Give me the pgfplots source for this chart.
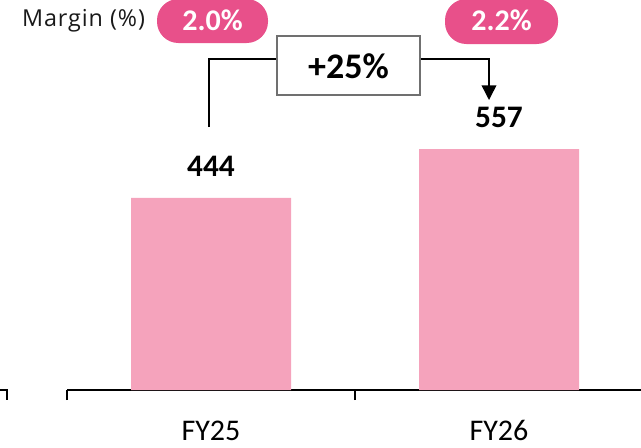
\documentclass[border=0pt]{standalone}
\usepackage{pgfplots}
\pgfplotsset{compat=1.18}
\usepackage{fontspec}
\setmainfont{Carlito}
\newfontfamily\marginfont[LetterSpace=4]{Open Sans}
\usetikzlibrary{arrows.meta}
\definecolor{barpink}{HTML}{F5A3BC}
\definecolor{badgepink}{HTML}{E8508A}
\definecolor{boxgray}{HTML}{707070}
\begin{document}
\begin{tikzpicture}[x=0.75pt,y=-0.75pt]
\path[use as bounding box] (0,0) rectangle (641,447);
\coordinate (O) at (67,390);
\begin{axis}[
  at={(O)}, anchor=south west,
  scale only axis,
  width=432pt, height=227.06pt,
  xmin=-0.5, xmax=1.5, ymin=0, ymax=700,
  axis x line*=bottom,
  hide y axis,
  axis line style={black, line width=1pt, -},
  xtick={0,1},
  xticklabels={FY25,FY26},
  major tick length=0pt,
  minor xtick={-0.5,0.5,1.5},
  minor tick length=7.5pt,
  tick align=outside,
  minor tick style={black, line width=1pt},
  xticklabel style={anchor=base, yshift=-38pt, font=\fontsize{22.5}{26}\selectfont},
  /pgf/number format/assume math mode=true,
  clip=false,
]
\addplot[ybar, bar width=120pt, fill=barpink, draw=none,
  nodes near coords,
  every node near coord/.append style={anchor=base, yshift=16pt, text=black, font=\fontsize{23.5}{28}\selectfont\bfseries}]
  coordinates {(0,444) (1,557)};
\end{axis}
% fragment of neighbouring axis
\draw[black, line width=1pt] (0,390) -- (7,390) -- (7,400);
% growth bracket
\draw[black, line width=1.1pt] (209,127) -- (209,59) -- (277,59);
\draw[black, line width=1.1pt, -{Triangle[width=11pt,length=11pt]}] (420,59) -- (489,59) -- (489,100);
\draw[boxgray, line width=0.9pt, fill=white] (277,36) rectangle (420,95);
\node[font=\fontsize{27}{32}\selectfont\bfseries, inner sep=0pt] at (348.5,66) {+25\%};
% margin badges
\node[font=\marginfont\fontsize{17.5}{21}\selectfont, text=black!90, inner sep=0pt] at (83.5,21) {Margin (\%)};
\fill[badgepink, rounded corners=16pt] (157,-1) rectangle (268,43);
\node[font=\fontsize{22.5}{27}\selectfont\bfseries, text=white, inner sep=0pt] at (212.5,20) {2.0\%};
\fill[badgepink, rounded corners=16pt] (445,-1) rectangle (558,44);
\node[font=\fontsize{22.5}{27}\selectfont\bfseries, text=white, inner sep=0pt] at (501.5,20) {2.2\%};
\end{tikzpicture}
\end{document}
